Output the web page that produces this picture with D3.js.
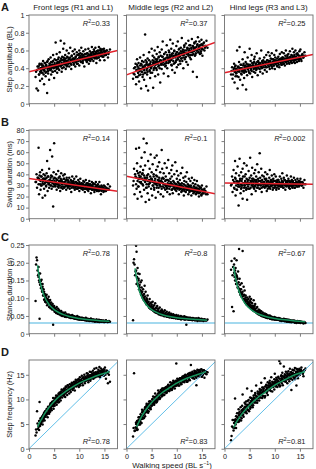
<!DOCTYPE html>
<html><head><meta charset="utf-8">
<script src="https://cdn.jsdelivr.net/npm/d3@7"></script>
<style>
body{margin:0;background:#fff}
text{font-family:"Liberation Sans",Arial,sans-serif;fill:#1a1a1a}
</style>
</head><body>
<svg id="chart" width="316" height="469"></svg>
<script>
// ---------- labels ----------
const legTitles = ["Front legs (R1 and L1)", "Middle legs (R2 and L2)", "Hind legs (R3 and L3)"];
const rowLetters = ["A", "B", "C", "D"];
const rowTitles = ["Step amplitude (BL)", "Swing duration (ms)", "Stance duration (s)", "Step frequency (Hz)"];
const xTicks = [0, 5, 10, 15];
const yTicksA = [0, 0.2, 0.4, 0.6, 0.8, 1];
const yLabelsA = ["0", "0.2", "0.4", "0.6", "0.8", "1"];
const yTicksB = [0, 10, 20, 30, 40, 50, 60, 70, 80];
const yLabelsB = ["0", "10", "20", "30", "40", "50", "60", "70", "80"];
const yTicksC = [0, 0.05, 0.10, 0.15, 0.20, 0.25];
const yLabelsC = ["0", "0.05", "0.10", "0.15", "0.20", "0.25"];
const yTicksD = [0, 5, 10, 15];
const yLabelsD = ["0", "5", "10", "15"];
const r2A = ["0.33", "0.37", "0.25"];
const r2B = ["0.14", "0.1", "0.002"];
const r2C = ["0.78", "0.8", "0.67"];
const r2D = ["0.78", "0.83", "0.81"];

// ---------- walking speed of each stride (BL s-1), two stride sets ----------
const speed = [
1.3,1.5,1.6,1.8,1.9,2.0,2.1,2.2,2.2,2.3, 2.4,2.5,2.6,2.7,2.8,2.9,3.0,3.0,3.1,3.2,
3.3,3.4,3.5,3.6,3.6,3.7,3.8,3.9,4.0,4.0, 4.1,4.2,4.3,4.4,4.5,4.6,4.7,4.8,4.9,5.0,
5.0,5.1,5.2,5.3,5.4,5.5,5.6,5.7,5.8,5.9, 6.0,6.0,6.1,6.2,6.3,6.4,6.5,6.6,6.7,6.8,
6.9,7.0,7.0,7.1,7.2,7.3,7.4,7.5,7.6,7.7, 7.8,7.9,8.0,8.1,8.2,8.3,8.4,8.5,8.6,8.7,
8.8,8.9,9.0,9.0,9.1,9.2,9.3,9.4,9.5,9.6, 9.7,9.8,9.9,10.0,10.0,10.1,10.2,10.3,10.4,10.5,
10.6,10.7,10.8,10.9,11.0,11.1,11.2,11.3,11.4,11.5, 11.6,11.7,11.8,11.9,12.0,12.1,12.2,12.3,12.4,12.5,
12.6,12.7,12.8,12.9,13.0,13.1,13.2,13.3,13.4,13.5, 13.6,13.7,13.8,13.9,14.0,14.1,14.2,14.3,14.4,14.5,
14.6,14.8,14.9,15.0,15.1,15.3,15.5,15.7,15.9,16.1];
const speedB = [
1.4,1.7,1.9,2.0,2.1,2.3,2.4,2.5,2.6,2.7, 2.8,2.9,3.1,3.2,3.3,3.4,3.5,3.7,3.8,3.9,
4.0,4.1,4.2,4.3,4.4,4.5,4.6,4.7,4.8,4.9, 5.1,5.2,5.3,5.4,5.5,5.6,5.7,5.8,5.9,6.0,
6.1,6.2,6.3,6.4,6.5,6.6,6.7,6.8,6.9,7.0, 7.1,7.2,7.3,7.4,7.5,7.6,7.7,7.8,7.9,8.0,
8.1,8.2,8.3,8.4,8.5,8.6,8.7,8.8,8.9,9.0, 9.1,9.2,9.3,9.4,9.5,9.6,9.7,9.8,9.9,10.0,
10.1,10.2,10.3,10.4,10.5,10.6,10.7,10.8,10.9,11.0, 11.1,11.2,11.3,11.4,11.5,11.6,11.7,11.8,11.9,12.0,
12.1,12.2,12.3,12.4,12.5,12.6,12.7,12.8,12.9,13.0, 13.1,13.2,13.3,13.4,13.5,13.6,13.7,13.8,13.9,14.0,
14.1,14.2,14.3,14.4,14.5,14.6,14.7,14.8,14.9,15.0, 15.1,15.2,15.4,15.6,15.8,2.6,3.4,4.4,5.6,6.4,
7.4,8.4,9.4,10.4,11.4,12.4,13.4,3.0,4.6,5.4];

// ---------- A: step amplitude (BL) ----------
const ampFront = [
.30,.17,.38,.15,.42,.33,.45,.26,.36,.40, .35,.44,.28,.39,.48,.33,.41,.22,.37,.46,
.31,.43,.36,.12,.47,.39,.34,.50,.27,.42, .45,.38,.52,.33,.41,.47,.36,.55,.40,.29,
.44,.50,.37,.69,.42,.56,.35,.47,.40,.52, .46,.38,.58,.43,.71,.49,.36,.53,.44,.62,
.41,.50,.68,.45,.55,.39,.48,.60,.43,.52, .47,.57,.42,.50,.63,.45,.39,.54,.48,.59,
.51,.44,.56,.48,.61,.42,.53,.47,.58,.50, .45,.55,.49,.60,.43,.52,.57,.47,.63,.50,
.54,.46,.59,.51,.42,.56,.61,.49,.53,.47, .57,.50,.62,.45,.54,.59,.48,.56,.52,.64,
.53,.58,.48,.61,.55,.51,.63,.57,.46,.59, .56,.60,.52,.64,.55,.49,.62,.58,.54,.61,
.57,.53,.62,.49,.59,.55,.60,.52,.58,.61];
const ampFrontB = [
.36,.42,.39,.33,.44,.40,.37,.45,.41,.35, .43,.38,.46,.40,.35,.44,.41,.48,.37,.42,
.40,.45,.43,.38,.47,.41,.44,.36,.48,.42, .46,.41,.44,.49,.39,.45,.42,.50,.43,.47,
.44,.48,.42,.51,.46,.40,.49,.45,.52,.47, .49,.44,.51,.46,.42,.53,.48,.45,.50,.47,
.46,.52,.48,.44,.54,.50,.47,.51,.45,.49, .51,.47,.53,.49,.45,.55,.50,.48,.56,.52,
.49,.54,.51,.47,.56,.52,.48,.55,.50,.53, .53,.50,.56,.52,.48,.57,.54,.51,.55,.49,
.55,.51,.57,.53,.50,.58,.54,.56,.52,.59, .56,.53,.58,.54,.51,.59,.55,.57,.52,.60,
.57,.54,.60,.55,.58,.53,.61,.56,.59,.55, .58,.55,.60,.57,.56,.40,.43,.39,.46,.43,
.45,.49,.48,.52,.50,.55,.53,.38,.44,.41];
const ampMiddle = [
.28,.40,.33,.45,.22,.38,.50,.30,.42,.35, .46,.25,.39,.52,.33,.17,.44,.36,.48,.30,
.41,.55,.27,.43,.35,.78,.49,.20,.38,.46, .33,.51,.15,.44,.58,.37,.29,.47,.40,.62,
.43,.35,.54,.18,.48,.40,.60,.31,.50,.45, .56,.38,.47,.64,.33,.52,.43,.58,.24,.49,
.45,.61,.39,.53,.70,.47,.34,.56,.50,.42, .58,.46,.66,.40,.52,.31,.60,.48,.55,.72,
.49,.62,.43,.56,.38,.68,.52,.45,.59,.35, .54,.47,.65,.41,.58,.50,.70,.44,.61,.53,
.57,.45,.63,.51,.74,.48,.59,.40,.55,.66, .60,.52,.68,.47,.57,.63,.44,.71,.55,.62,
.58,.66,.50,.62,.73,.55,.36,.64,.59,.69, .63,.55,.70,.60,.30,.67,.75,.58,.64,.61,
.66,.57,.72,.62,.54,.68,.60,.65,.71,.63];
const ampMiddleB = [
.34,.41,.30,.38,.44,.35,.40,.32,.37,.43, .39,.45,.36,.42,.33,.47,.38,.41,.35,.44,
.47,.40,.36,.44,.42,.49,.38,.45,.35,.41, .43,.49,.46,.38,.52,.41,.47,.44,.40,.48,
.50,.45,.42,.53,.47,.40,.49,.54,.44,.46, .47,.53,.44,.50,.56,.45,.51,.43,.48,.52,
.55,.49,.46,.52,.58,.47,.53,.50,.44,.54, .51,.57,.48,.54,.60,.46,.52,.56,.49,.55,
.58,.53,.50,.56,.62,.48,.54,.59,.51,.57, .55,.61,.52,.58,.64,.50,.57,.53,.60,.56,
.62,.57,.54,.60,.66,.52,.59,.55,.63,.58, .59,.65,.56,.62,.68,.54,.61,.57,.64,.60,
.66,.61,.58,.64,.70,.56,.63,.59,.67,.62, .66,.61,.69,.63,.65,.38,.40,.42,.45,.47,
.49,.51,.53,.55,.57,.59,.61,.39,.43,.44];
const ampHind = [
.33,.41,.28,.38,.45,.24,.36,.43,.31,.39, .35,.60,.17,.42,.30,.47,.37,.64,.27,.40,
.44,.33,.39,.50,.21,.36,.45,.29,.41,.58, .37,.47,.16,.42,.32,.52,.39,.44,.35,.62,
.41,.34,.48,.38,.55,.30,.43,.46,.36,.50, .40,.53,.35,.45,.38,.57,.42,.32,.48,.44,
.46,.39,.51,.36,.43,.60,.41,.47,.34,.49, .44,.52,.38,.47,.41,.55,.36,.49,.45,.58,
.48,.42,.54,.39,.46,.51,.44,.57,.40,.47, .50,.43,.55,.47,.39,.52,.45,.60,.48,.42,
.46,.53,.49,.41,.56,.47,.51,.44,.58,.50, .52,.45,.57,.49,.43,.54,.60,.47,.51,.55,
.48,.56,.51,.45,.59,.53,.47,.55,.50,.62, .53,.49,.58,.55,.46,.60,.52,.56,.50,.57,
.55,.50,.59,.53,.61,.48,.56,.52,.58,.54];
const ampHindB = [
.37,.33,.40,.36,.42,.34,.39,.31,.38,.41, .41,.36,.39,.44,.34,.40,.37,.43,.38,.35,
.38,.43,.40,.36,.45,.41,.39,.44,.37,.42, .44,.40,.42,.37,.46,.41,.43,.39,.47,.42,
.41,.45,.43,.39,.47,.42,.44,.40,.46,.43, .46,.42,.44,.40,.48,.43,.45,.41,.47,.44,
.43,.47,.45,.41,.49,.44,.46,.42,.48,.45, .48,.44,.46,.42,.50,.45,.47,.43,.49,.46,
.45,.49,.47,.43,.51,.46,.48,.44,.50,.47, .50,.46,.48,.44,.52,.47,.49,.45,.51,.48,
.47,.51,.49,.45,.53,.48,.50,.46,.52,.49, .52,.48,.50,.46,.54,.49,.51,.47,.53,.50,
.49,.53,.51,.47,.55,.50,.52,.48,.54,.51, .53,.50,.55,.52,.54,.37,.40,.41,.43,.42,
.44,.45,.46,.47,.48,.49,.51,.39,.41,.42];

// ---------- B: swing duration (ms) ----------
const swingFront = [
33,40,28,37,64,22,35,31,42,26, 38,30,44,19,34,40,27,36,32,21,
36,29,41,52,33,25,38,31,45,28, 35,62,30,39,27,56,34,11,42,31,
68,37,29,33,40,26,35,31,43,28, 34,30,38,25,36,41,29,33,27,39,
32,36,28,40,31,34,26,37,30,35, 29,33,37,27,31,35,24,32,38,30,
34,28,31,36,26,33,30,38,29,32, 27,35,30,33,25,31,36,28,32,29,
31,26,34,29,33,24,30,35,27,32, 28,32,25,30,34,27,31,23,29,33,
30,26,32,28,24,31,27,33,29,25, 27,31,25,29,33,26,28,22,30,27,
28,24,30,26,29,25,27,31,26,29];
const swingFrontB = [
33,37,31,36,39,34,30,38,35,32, 36,31,35,39,33,30,37,34,38,32,
31,35,33,37,30,34,38,32,29,36, 34,30,33,36,31,35,29,32,37,33,
30,34,32,28,35,31,33,29,36,32, 33,29,31,35,30,32,28,34,31,30,
29,32,30,34,28,31,33,29,32,30, 31,28,30,33,27,32,29,31,28,30,
28,31,29,27,32,30,28,31,29,27, 30,27,29,31,28,26,30,29,27,31,
27,29,28,30,26,29,27,31,28,26, 28,26,29,27,30,26,28,27,25,29,
26,28,27,25,29,26,28,27,25,27, 27,25,28,26,27,35,33,34,32,33,
31,30,30,29,28,28,27,36,33,32];
const swingMiddle = [
30,45,22,38,63,27,50,34,18,41, 29,64,36,24,47,33,55,20,40,31,
44,72,26,37,60,48,15,35,68,28, 39,23,52,31,17,45,34,58,27,42,
36,21,49,30,40,26,55,33,19,44, 57,28,38,47,24,35,51,30,42,22,
34,62,27,45,37,20,41,31,50,26, 38,29,46,24,35,53,30,41,22,36,
32,44,26,38,48,23,34,29,40,27, 51,31,25,36,43,28,33,39,22,30,
35,27,41,24,32,46,29,37,21,34, 28,38,24,33,42,26,31,22,36,29,
25,34,30,21,37,27,32,23,29,35, 27,31,22,28,34,24,30,26,20,29,
24,28,21,30,26,23,27,25,29,22];
const swingMiddleB = [
34,40,31,37,43,29,36,39,33,42, 38,32,36,41,30,35,39,33,37,28,
31,37,34,40,29,35,32,38,33,36, 35,30,33,38,28,34,36,31,39,32,
30,35,32,28,37,31,34,29,33,36, 33,29,32,36,28,31,34,30,35,27,
28,32,30,34,27,31,29,33,30,26, 31,27,30,33,28,32,26,29,31,28,
27,30,28,32,26,29,31,27,30,25, 29,26,28,31,25,27,30,28,26,29,
26,28,27,30,24,27,29,25,28,26, 27,25,26,29,24,27,25,28,23,26,
24,27,25,23,26,28,24,25,22,26, 25,23,26,24,22,37,35,34,32,33,
31,30,29,28,27,26,25,36,34,33];
const swingHind = [
30,38,24,44,33,27,52,36,21,41, 34,26,47,31,12,39,29,54,35,23,
42,28,36,18,45,32,25,50,38,30, 33,40,26,48,17,35,29,43,31,37,
27,55,34,39,22,46,31,36,28,41, 35,30,44,25,38,33,49,28,36,42,
31,59,27,37,34,45,24,39,32,29, 38,33,28,42,30,36,25,40,34,31,
29,37,32,44,27,35,30,39,33,26, 36,31,40,28,34,30,38,26,33,35,
30,35,27,33,38,31,29,36,32,41, 33,28,37,31,35,26,34,30,39,32,
31,36,29,34,27,33,38,30,35,28, 34,30,37,32,28,35,31,33,29,36,
32,29,34,31,36,30,33,28,35,31];
const swingHindB = [
31,35,28,33,37,30,26,34,32,29, 33,29,36,31,27,34,30,38,32,28,
30,34,32,28,36,31,33,27,35,32, 32,28,34,30,36,31,29,33,27,35,
29,33,31,35,28,32,30,34,31,27, 34,30,32,28,35,31,33,29,32,36,
31,35,29,33,30,27,34,32,28,31, 33,29,31,35,30,32,28,34,31,30,
30,34,32,28,33,31,35,29,32,30, 32,29,31,34,30,33,28,31,35,30,
31,33,29,32,30,34,31,28,33,30, 30,32,34,29,31,33,30,32,28,31,
32,30,33,31,29,32,34,30,31,33, 31,33,30,32,31,33,30,32,34,31,
32,30,33,31,29,32,30,34,31,33];

// ---------- C: stance duration (s) ----------
const stanceFront = [
.092,.215,.207,.165,.188,.150,.042,.170,.138,.148, .130,.152,.118,.140,.108,.125,.096,.118,.112,.090,
.102,.088,.110,.095,.080,.098,.086,.104,.075,.090, .082,.095,.072,.088,.078,.068,.084,.025,.074,.066,
.078,.062,.072,.068,.058,.075,.064,.056,.070,.060, .066,.055,.062,.058,.052,.064,.056,.050,.060,.054,
.058,.051,.056,.048,.060,.053,.047,.055,.050,.052, .049,.054,.046,.052,.048,.044,.051,.047,.053,.045,
.050,.046,.043,.049,.045,.048,.042,.047,.044,.050, .045,.041,.047,.043,.040,.046,.042,.044,.039,.045,
.041,.044,.039,.043,.040,.038,.042,.045,.037,.041, .039,.042,.037,.041,.036,.040,.038,.043,.037,.039,
.038,.035,.040,.037,.039,.034,.038,.036,.040,.035, .037,.034,.036,.039,.033,.037,.035,.038,.034,.036,
.035,.037,.033,.036,.034,.038,.035,.033,.036,.034];
const stanceFrontB = [
.195,.178,.160,.170,.145,.150,.128,.140,.120,.132, .118,.108,.112,.100,.106,.094,.098,.090,.095,.086,
.088,.082,.085,.078,.080,.074,.077,.071,.073,.068, .070,.066,.068,.063,.065,.060,.062,.058,.061,.057,
.059,.056,.058,.054,.057,.053,.055,.051,.054,.052, .053,.050,.052,.049,.051,.048,.050,.047,.049,.048,
.049,.046,.048,.045,.047,.044,.046,.045,.047,.043, .045,.043,.046,.042,.044,.041,.043,.045,.042,.040,
.043,.041,.042,.040,.044,.039,.041,.043,.040,.042, .041,.039,.040,.038,.042,.037,.040,.039,.041,.038,
.039,.037,.038,.036,.040,.037,.039,.036,.038,.037, .038,.036,.037,.035,.039,.036,.037,.035,.038,.036,
.037,.035,.036,.034,.037,.035,.036,.034,.035,.033, .035,.034,.036,.033,.035,.128,.100,.078,.062,.058,
.050,.047,.044,.042,.040,.038,.036,.110,.073,.066];
const stanceMiddle = [
.038,.210,.195,.175,.248,.231,.160,.185,.142,.170, .155,.135,.168,.122,.145,.110,.130,.150,.118,.102,
.125,.098,.112,.135,.092,.105,.118,.088,.100,.082, .095,.108,.080,.090,.074,.098,.085,.072,.088,.078,
.082,.068,.090,.076,.064,.080,.070,.086,.062,.074, .072,.060,.078,.066,.058,.070,.062,.074,.056,.064,
.060,.068,.055,.064,.058,.052,.062,.056,.066,.053, .058,.050,.062,.054,.048,.057,.052,.060,.049,.055,
.052,.056,.047,.053,.050,.045,.055,.049,.052,.046, .050,.046,.053,.044,.049,.047,.042,.051,.046,.048,
.046,.043,.050,.041,.047,.044,.048,.042,.045,.049, .044,.040,.047,.025,.043,.046,.041,.045,.039,.044,
.042,.045,.039,.043,.041,.038,.044,.040,.042,.039, .041,.038,.043,.039,.042,.036,.040,.044,.038,.041,
.040,.037,.042,.038,.040,.036,.041,.039,.037,.040];
const stanceMiddleB = [
.200,.165,.178,.140,.158,.135,.150,.125,.138,.118, .122,.110,.118,.102,.108,.096,.100,.090,.094,.086,
.090,.084,.088,.078,.082,.074,.079,.071,.075,.069, .072,.067,.070,.064,.068,.061,.065,.060,.063,.058,
.062,.058,.060,.055,.059,.054,.057,.053,.056,.052, .056,.053,.055,.050,.054,.049,.052,.051,.050,.048,
.052,.049,.051,.047,.050,.046,.049,.048,.047,.045, .049,.046,.048,.044,.047,.045,.046,.043,.048,.045,
.046,.044,.047,.042,.045,.043,.046,.041,.044,.043, .045,.042,.044,.041,.046,.040,.043,.042,.044,.041,
.043,.041,.042,.040,.044,.039,.042,.041,.043,.040, .042,.040,.041,.039,.043,.038,.041,.040,.042,.039,
.041,.039,.040,.038,.042,.037,.040,.039,.041,.038, .039,.038,.040,.037,.038,.130,.100,.080,.065,.058,
.053,.049,.047,.045,.043,.042,.040,.112,.075,.068];
const stanceHind = [
.180,.075,.165,.063,.195,.212,.150,.185,.170,.140, .207,.160,.130,.175,.145,.239,.120,.155,.138,.110,
.125,.142,.105,.233,.118,.098,.132,.110,.095,.122, .088,.108,.096,.082,.102,.090,.078,.098,.085,.104,
.075,.092,.080,.098,.072,.086,.068,.079,.094,.070, .066,.078,.084,.062,.072,.060,.075,.064,.058,.068,
.061,.055,.066,.058,.052,.063,.056,.050,.060,.054, .053,.048,.057,.051,.046,.055,.049,.044,.052,.047,
.048,.044,.051,.046,.042,.049,.045,.041,.047,.043, .045,.041,.047,.043,.040,.046,.042,.039,.044,.041,
.042,.039,.044,.040,.037,.043,.039,.036,.041,.038, .040,.037,.042,.036,.039,.035,.041,.037,.034,.039,
.037,.034,.039,.036,.033,.038,.035,.032,.036,.034, .035,.033,.037,.034,.031,.036,.033,.030,.035,.032,
.033,.031,.035,.032,.030,.034,.031,.029,.033,.030];
const stanceHindB = [
.205,.188,.172,.160,.178,.150,.165,.140,.155,.132, .128,.118,.125,.110,.116,.104,.112,.098,.106,.094,
.098,.090,.102,.085,.094,.082,.096,.078,.088,.084, .080,.074,.088,.070,.078,.067,.075,.064,.072,.068,
.066,.062,.064,.058,.063,.056,.060,.054,.059,.055, .056,.052,.054,.050,.053,.049,.052,.048,.051,.047,
.050,.047,.049,.046,.048,.044,.047,.045,.046,.043, .046,.043,.045,.042,.044,.041,.043,.042,.044,.040,
.043,.041,.042,.040,.043,.039,.041,.040,.042,.038, .041,.039,.040,.038,.041,.037,.039,.038,.040,.036,
.039,.037,.038,.036,.039,.035,.037,.036,.038,.035, .037,.035,.036,.034,.037,.034,.035,.034,.036,.033,
.035,.034,.035,.033,.036,.032,.034,.033,.035,.032, .034,.033,.032,.033,.031,.140,.112,.092,.070,.060,
.052,.046,.043,.041,.039,.037,.035,.120,.084,.074];

// ---------- D: step frequency (Hz) ----------
const freqFront = [
2.7,3.3,7.6,4.0,4.4,3.8,9.5,5.2,4.6,5.8, 5.0,6.2,5.6,4.9,6.8,5.9,7.3,6.3,5.7,7.0,
6.5,7.6,6.9,8.1,7.2,6.4,8.5,7.7,8.0,7.1, 8.6,7.5,9.2,8.2,7.8,9.5,8.8,10.3,8.1,9.0,
9.8,8.7,10.2,9.3,10.8,8.9,9.9,10.5,9.4,11.2, 10.1,9.5,11.4,10.6,9.8,11.0,12.0,10.4,11.3,10.9,
11.6,10.7,12.2,11.1,10.5,12.6,11.4,11.9,10.9,12.9, 11.7,12.4,11.2,13.1,12.0,11.5,12.8,13.4,12.2,11.9,
13.0,12.3,13.6,12.7,11.8,13.3,14.0,12.6,13.5,12.9, 13.2,14.1,12.5,13.7,13.0,14.5,12.8,13.9,13.4,14.8,
13.6,12.9,14.3,13.8,15.0,13.3,14.6,13.9,14.2,15.3, 14.0,15.2,13.5,14.7,14.3,15.6,13.8,14.9,15.5,14.4,
14.8,15.8,14.2,15.3,16.2,14.6,15.5,14.9,16.4,15.1, 15.4,14.7,16.0,15.1,16.6,14.5,15.7,16.3,15.0,15.9,
15.6,16.1,14.8,15.3,16.5,14.2,15.8,13.3,15.0,13.6];
const freqFrontB = [
3.9,5.1,4.6,5.6,4.9,6.2,5.4,5.9,6.5,5.5, 6.3,7.0,6.6,7.6,6.9,7.2,8.0,7.1,7.8,7.4,
8.3,7.8,8.9,8.5,8.1,9.3,8.7,9.6,8.6,9.1, 9.8,9.3,10.4,10.0,9.6,10.7,10.2,9.9,11.0,10.5,
10.9,10.3,11.3,11.6,10.8,11.1,11.9,11.4,10.9,12.0, 11.7,12.2,11.4,12.5,11.9,11.6,12.8,12.1,12.4,11.9,
12.5,12.0,13.0,12.7,12.3,13.3,12.6,13.0,13.5,12.8, 13.1,12.7,13.6,13.3,12.9,13.9,13.4,13.1,14.1,13.6,
13.6,13.2,14.0,13.8,13.4,14.3,13.7,14.5,13.9,14.2, 14.1,13.7,14.5,14.2,13.9,14.8,14.3,14.6,14.0,14.9,
14.5,14.1,14.9,14.6,14.3,15.2,14.7,15.0,14.4,15.3, 14.9,14.5,15.3,15.0,14.7,15.6,15.1,15.4,14.8,15.7,
15.2,14.8,15.6,15.3,15.0,15.9,15.4,15.7,15.1,16.0, 15.5,15.0,15.8,15.3,15.6,6.5,7.5,8.8,10.1,10.9,
11.7,12.4,13.0,13.4,14.0,14.5,14.8,7.0,9.0,9.8];
const freqMiddle = [
2.5,15.3,3.6,4.3,5.0,4.1,5.6,4.8,3.9,5.3, 5.9,5.1,6.4,5.5,7.0,6.0,5.2,6.7,7.4,6.1,
6.8,7.5,6.3,8.0,7.1,6.6,8.4,7.4,8.8,7.7, 7.9,8.6,7.3,9.1,8.2,8.8,9.6,8.0,9.3,8.7,
9.5,8.8,10.1,9.2,9.8,8.9,10.5,9.6,10.2,9.4, 10.0,10.8,9.7,10.4,11.2,10.1,10.7,11.5,10.3,11.0,
11.3,10.6,11.8,11.1,10.8,12.2,11.5,11.0,12.0,11.6, 11.9,12.5,11.4,12.2,11.8,12.9,12.3,11.7,12.7,12.1,
12.6,13.1,12.0,12.8,13.4,12.4,13.0,12.7,13.6,12.9, 13.2,12.7,17.3,13.5,12.9,13.8,13.3,14.1,12.8,13.6,
13.9,13.4,14.3,13.1,14.0,14.6,13.6,14.2,13.8,14.8, 14.4,13.9,14.9,14.2,14.7,13.6,15.1,14.5,14.0,15.3,
14.8,15.4,17.0,14.5,15.0,15.6,14.3,15.2,14.9,15.8, 15.1,14.6,15.7,12.9,15.3,16.0,14.8,15.5,15.9,15.2,
15.6,15.0,16.1,14.7,15.4,15.9,14.4,15.7,15.1,15.5];
const freqMiddleB = [
4.2,3.7,5.3,4.4,3.8,5.4,6.4,4.9,5.9,4.9, 5.3,6.5,7.9,6.4,7.6,6.2,7.3,8.4,7.6,8.3,
9.1,7.6,8.4,8.9,7.6,9.6,8.7,9.6,8.3,9.5, 10.0,9.2,10.6,9.8,9.2,10.4,11.2,9.7,10.5,9.5,
9.8,10.8,11.8,10.4,11.4,10.1,11.1,11.9,11.0,11.7, 12.2,10.9,11.5,11.9,10.9,12.3,11.6,12.4,11.3,12.2,
12.6,11.8,13.0,12.3,11.7,12.7,13.5,12.0,12.8,11.9, 12.1,13.0,13.8,12.6,13.5,12.2,13.1,13.8,13.0,13.6,
14.2,12.9,13.5,13.8,12.8,14.3,13.5,14.3,13.2,14.1, 14.3,13.7,14.7,14.1,13.5,14.5,15.0,13.9,14.4,13.6,
13.7,14.5,15.2,14.2,14.9,13.9,14.6,15.2,14.6,15.0, 15.4,14.4,14.8,15.1,14.2,15.5,14.8,15.4,14.4,15.1,
15.4,14.8,15.8,15.1,14.6,15.5,16.0,14.9,15.4,14.6, 15.8,15.0,15.9,15.3,15.7,5.8,7.2,8.8,10.0,10.7,
11.6,12.5,13.2,13.7,14.2,14.7,15.0,6.6,9.0,9.7];
const freqHind = [
1.7,4.5,5.8,3.7,5.2,4.2,10.2,6.0,4.9,6.6, 5.7,7.2,6.3,5.4,8.0,6.8,5.9,7.5,6.5,8.4,
7.0,6.2,8.7,7.6,11.0,6.9,8.1,7.4,9.3,7.8, 8.5,7.6,9.6,8.2,12.2,8.9,7.9,9.9,8.6,9.3,
9.0,10.4,8.4,9.7,11.7,9.2,10.1,8.8,10.8,9.5, 10.2,9.4,11.3,10.0,12.8,10.6,9.8,11.6,10.3,11.0,
11.2,10.4,12.1,11.7,10.9,13.4,11.4,12.4,10.7,11.9, 12.2,11.5,14.3,12.6,11.8,13.0,12.3,11.6,13.5,12.8,
12.4,13.3,12.0,13.8,12.7,13.1,14.5,12.5,13.6,12.9, 13.4,12.8,14.1,13.0,15.2,13.7,12.9,14.4,13.3,14.0,
13.8,14.6,13.2,17.8,14.2,17.3,13.6,14.9,14.3,15.4, 14.7,13.9,16.7,14.4,15.1,13.7,15.6,14.8,14.1,15.3,
14.9,15.7,14.3,15.2,16.2,14.6,15.5,11.9,15.0,16.0, 15.3,14.6,15.9,15.1,16.4,14.8,15.6,12.8,15.2,16.1,
15.5,14.9,16.2,15.0,15.8,16.5,15.3,14.7,15.9,16.3];
const freqHindB = [
2.6,4.3,5.8,4.3,5.6,4.2,5.4,6.5,5.6,6.3, 7.2,5.5,6.5,7.0,5.7,7.8,6.8,8.0,6.5,7.7,
8.4,7.4,9.0,8.0,7.2,8.6,9.7,7.8,8.8,7.6, 8.1,9.2,10.3,8.8,9.9,8.4,9.5,10.4,9.5,10.2,
10.9,9.4,10.1,10.6,9.3,11.2,10.3,11.2,9.8,10.9, 11.4,10.4,11.9,11.0,10.3,11.5,12.4,10.7,11.5,10.4,
10.7,11.8,12.8,11.3,12.4,10.9,11.9,12.8,11.9,12.6, 13.3,11.7,12.4,12.9,11.6,13.4,12.5,13.4,12.0,13.1,
13.5,12.6,14.0,13.2,12.5,13.7,14.4,12.9,13.6,12.6, 12.8,13.8,14.7,13.3,14.2,12.9,13.8,14.6,13.7,14.4,
14.9,13.6,14.1,14.6,13.3,15.0,14.1,14.9,13.7,14.7, 15.0,14.2,15.5,14.7,14.0,15.2,15.9,14.4,15.1,14.1,
14.3,15.3,16.2,14.8,15.7,14.3,15.3,16.0,15.2,15.8, 15.4,16.0,15.7,15.2,15.9,5.9,7.3,8.5,9.9,10.5,
11.2,12.0,12.8,13.4,14.0,14.6,15.1,6.8,8.6,9.5];

// ---------- fitted lines ----------
// linear fits: value at speed 0 and at speed 17.6
const ampFits = [[0.36, 0.60], [0.325, 0.69], [0.35, 0.556]];
const swingFits = [[36.2, 24.7], [38.3, 22.6], [32.3, 31.1]];
// curve fits [speed, value]
const stanceCurveFront = [[1.7,.193],[2,.162],[2.5,.128],[3,.107],[4,.082],[5,.068],[6,.059],[7,.053],[8,.0485],[10,.043],[12,.039],[14,.0366],[16,.0348]];
const stanceCurveMiddle = [[1.7,.184],[2,.156],[2.5,.124],[3,.104],[4,.081],[5,.068],[6,.060],[7,.054],[8,.050],[10,.045],[12,.042],[14,.040],[16,.038]];
const stanceCurveHind = [[1.8,.19],[2,.172],[2.5,.138],[3,.115],[4,.087],[5,.071],[6,.061],[7,.054],[8,.049],[10,.043],[12,.039],[14,.036],[16,.034]];
const freqCurveFront = [[1.7,4.4],[2,5.1],[2.5,6.0],[3,6.9],[4,8.4],[5,9.6],[6,10.6],[7,11.4],[8,12.1],[10,13.3],[12,14.2],[14,15.0],[16,15.6]];
const freqCurveMiddle = [[2,4.4],[2.5,5.5],[3,6.5],[4,8.1],[5,9.4],[6,10.4],[7,11.3],[8,12.0],[10,13.3],[12,14.3],[14,15.0],[15.8,15.6]];
const freqCurveHind = [[1.8,4.3],[2.5,5.6],[3,6.4],[4,7.7],[5,8.8],[6,9.8],[7,10.7],[8,11.4],[10,12.9],[12,14.0],[14,15.0],[16,15.6]];
const stanceFloor = 0.03;

// ---------- layout ----------
const svg = d3.select("#chart");
const colX = [29, 126.5, 224.5], W = 88.5;
const rowY = [15, 130, 245, 360], H = 88.7;
const xMax = 17.6;
const RED = "#e3202a", GREEN = "#17935c", LBLUE = "#a3d9ef", BLUE = "#62bfe8", GREY = "#6f6f6f";

const rows = [
  {dom:[0,1], ticks:yTicksA, labels:yLabelsA, data:[[ampFront,ampFrontB],[ampMiddle,ampMiddleB],[ampHind,ampHindB]], r2:r2A, r2Top:true, kind:"lin", fits:ampFits},
  {dom:[0,80], ticks:yTicksB, labels:yLabelsB, data:[[swingFront,swingFrontB],[swingMiddle,swingMiddleB],[swingHind,swingHindB]], r2:r2B, r2Top:true, kind:"lin", fits:swingFits},
  {dom:[0,0.25], ticks:yTicksC, labels:yLabelsC, data:[[stanceFront,stanceFrontB],[stanceMiddle,stanceMiddleB],[stanceHind,stanceHindB]], r2:r2C, r2Top:true, kind:"stance", curves:[stanceCurveFront,stanceCurveMiddle,stanceCurveHind]},
  {dom:[0,18], ticks:yTicksD, labels:yLabelsD, data:[[freqFront,freqFrontB],[freqMiddle,freqMiddleB],[freqHind,freqHindB]], r2:r2D, r2Top:false, kind:"freq", curves:[freqCurveFront,freqCurveMiddle,freqCurveHind]}
];

const defs = svg.append("defs");

rows.forEach((row, ri) => {
  svg.append("text").attr("x", 1).attr("y", rowY[ri] - 4.5)
    .attr("font-size", 11).attr("font-weight", "bold").text(rowLetters[ri]);
  svg.append("text")
    .attr("transform", `translate(9.5,${rowY[ri] + H / 2}) rotate(-90)`)
    .attr("text-anchor", "middle").attr("dy", "0.35em")
    .attr("font-size", 7.5).text(rowTitles[ri]);

  for (let c = 0; c < 3; c++) {
    const x = d3.scaleLinear().domain([0, xMax]).range([colX[c], colX[c] + W]);
    const y = d3.scaleLinear().domain(row.dom).range([rowY[ri] + H, rowY[ri]]);
    const id = `clip${ri}${c}`;
    defs.append("clipPath").attr("id", id).append("rect")
      .attr("x", colX[c]).attr("y", rowY[ri]).attr("width", W).attr("height", H);
    const g = svg.append("g");
    const inner = g.append("g").attr("clip-path", `url(#${id})`);

    if (row.kind === "stance") {
      inner.append("line").attr("x1", x(0)).attr("x2", x(xMax))
        .attr("y1", y(stanceFloor)).attr("y2", y(stanceFloor))
        .attr("stroke", LBLUE).attr("stroke-width", 2);
    }

    const pts = [];
    const [v1, v2] = row.data[c];
    v1.forEach((v, i) => pts.push([speed[i], v]));
    v2.forEach((v, i) => pts.push([speedB[i], v]));
    inner.append("g").selectAll("circle").data(pts).join("circle")
      .attr("cx", d => x(d[0])).attr("cy", d => y(d[1]))
      .attr("r", 1.25).attr("fill", "#000");

    if (row.kind === "lin") {
      const f = row.fits[c];
      inner.append("line").attr("x1", x(0)).attr("x2", x(xMax))
        .attr("y1", y(f[0])).attr("y2", y(f[1]))
        .attr("stroke", RED).attr("stroke-width", 1.5);
    }
    if (row.kind === "freq") {
      inner.append("line").attr("x1", x(0)).attr("y1", y(0))
        .attr("x2", x(xMax)).attr("y2", y(xMax))
        .attr("stroke", BLUE).attr("stroke-width", 1);
    }
    if (row.curves) {
      const line = d3.line().x(d => x(d[0])).y(d => y(d[1])).curve(d3.curveMonotoneX);
      inner.append("path").attr("d", line(row.curves[c]))
        .attr("fill", "none").attr("stroke", GREEN).attr("stroke-width", 1.5);
    }

    g.append("rect").attr("x", colX[c]).attr("y", rowY[ri]).attr("width", W).attr("height", H)
      .attr("fill", "none").attr("stroke", GREY).attr("stroke-width", 0.9);

    const ya = d3.axisLeft(y).tickValues(row.ticks).tickSize(3).tickSizeOuter(0).tickPadding(1.5)
      .tickFormat((d, i) => c === 0 ? row.labels[i] : "");
    const yg = g.append("g").attr("transform", `translate(${colX[c]},0)`).call(ya);
    const xa = d3.axisBottom(x).tickValues(xTicks).tickSize(3).tickSizeOuter(0).tickPadding(2)
      .tickFormat(d => ri === 3 ? String(d) : "");
    const xg = g.append("g").attr("transform", `translate(0,${rowY[ri] + H})`).call(xa);
    [yg, xg].forEach(a => {
      a.select(".domain").remove();
      a.selectAll("line").attr("stroke", GREY).attr("stroke-width", 0.9);
      a.selectAll("text").attr("font-size", 7.2).attr("fill", "#1a1a1a")
        .attr("font-family", '"Liberation Sans", Arial, sans-serif');
    });

    const t = g.append("text").attr("text-anchor", "end")
      .attr("x", colX[c] + W - 7.5)
      .attr("y", row.r2Top ? rowY[ri] + 10.5 : rowY[ri] + H - 4.5)
      .attr("font-size", 7.5);
    t.append("tspan").attr("font-style", "italic").text("R");
    t.append("tspan").attr("font-size", 5).attr("dy", -2.8).text("2");
    t.append("tspan").attr("dy", 2.8).text("=" + row.r2[c]);
  }
});

legTitles.forEach((s, c) => {
  svg.append("text").attr("x", colX[c] + W / 2).attr("y", 10)
    .attr("text-anchor", "middle").attr("font-size", 8).text(s);
});

const xt = svg.append("text").attr("x", 172).attr("y", 467.5)
  .attr("text-anchor", "middle").attr("font-size", 7.8);
xt.append("tspan").text("Walking speed (BL s");
xt.append("tspan").attr("font-size", 5.2).attr("dy", -2.8).text("\u22121");
xt.append("tspan").attr("dy", 2.8).text(")");
</script>
</body></html>
